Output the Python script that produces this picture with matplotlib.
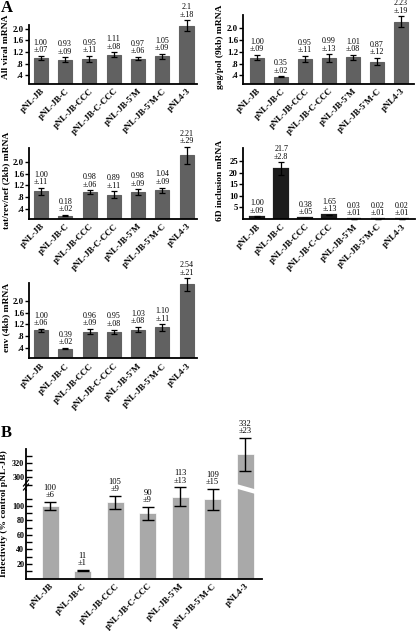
import numpy as np
import matplotlib
matplotlib.use('Agg')
import matplotlib.pyplot as plt
import matplotlib.transforms as mtransforms
from matplotlib.lines import Line2D

plt.rcParams['font.family'] = ['Liberation Serif', 'DejaVu Serif']

# ---------------- data ----------------
constructs = ["pNL-JB", "pNL-JB-C", "pNL-JB-CCC", "pNL-JB-C-CCC",
              "pNL-JB-5'M", "pNL-JB-5'M-C", "pNL4-3"]

all_viral = [1.00, 0.93, 0.95, 1.11, 0.97, 1.05, 2.10]
all_viral_err = [0.07, 0.09, 0.11, 0.08, 0.06, 0.09, 0.18]
all_viral_txt = ["1.00", "0.93", "0.95", "1.11", "0.97", "1.05", "2.1"]
all_viral_etxt = ["±.07", "±.09", "±.11", "±.08", "±.06", "±.09", "±.18"]

gagpol = [1.00, 0.35, 0.95, 0.99, 1.01, 0.87, 2.23]
gagpol_err = [0.09, 0.02, 0.11, 0.13, 0.08, 0.12, 0.19]
gagpol_txt = ["1.00", "0.35", "0.95", "0.99", "1.01", "0.87", "2.23"]
gagpol_etxt = ["±.09", "±.02", "±.11", "±.13", "±.08", "±.12", "±.19"]

tatrev = [1.00, 0.18, 0.98, 0.89, 0.98, 1.04, 2.21]
tatrev_err = [0.11, 0.02, 0.06, 0.11, 0.09, 0.09, 0.29]
tatrev_txt = ["1.00", "0.18", "0.98", "0.89", "0.98", "1.04", "2.21"]
tatrev_etxt = ["±.11", "±.02", "±.06", "±.11", "±.09", "±.09", "±.29"]

sixd = [1.00, 21.7, 0.38, 1.65, 0.03, 0.02, 0.02]
sixd_err = [0.09, 2.8, 0.05, 0.13, 0.01, 0.01, 0.01]
sixd_txt = ["1.00", "21.7", "0.38", "1.65", "0.03", "0.02", "0.02"]
sixd_etxt = ["±.09", "±2.8", "±.05", "±.13", "±.01", "±.01", "±.01"]

env = [1.00, 0.39, 0.96, 0.95, 1.03, 1.10, 2.54]
env_err = [0.06, 0.02, 0.09, 0.08, 0.08, 0.11, 0.21]
env_txt = ["1.00", "0.39", "0.96", "0.95", "1.03", "1.10", "2.54"]
env_etxt = ["±.06", "±.02", "±.09", "±.08", "±.08", "±.11", "±.21"]

infect = [100, 11, 105, 90, 113, 109, 332]
infect_err = [6, 1, 9, 9, 13, 15, 23]
infect_txt = ["100", "11", "105", "90", "113", "109", "332"]
infect_etxt = ["±6", "±1", "±9", "±9", "±13", "±15", "±23"]

ratio_ticks = [0.4, 0.8, 1.2, 1.6, 2.0]
ratio_ticklabels = [".4", ".8", "1.2", "1.6", "2.0"]
sixd_ticks = [5, 10, 15, 20, 25]
infect_low_ticks = [20, 40, 60, 80, 100]
infect_low_minor = [10, 30, 50, 70, 90, 110]
infect_high_ticks = [300, 320]
infect_high_minor = [290, 310, 330]

# ---------------- layout helpers ----------------
W, H = 416, 631
fig = plt.figure(figsize=(W / 100, H / 100), dpi=100)


def box(x0, x1, ytop, ybot):
    return [x0 / W, 1 - ybot / H, (x1 - x0) / W, (ybot - ytop) / H]


def ftext(x, y, s, **kw):
    fig.text(x / W, 1 - y / H, s, **kw)


GRAY = '#616161'
DARK = '#1c1c1c'
LIGHT = '#a9a9a9'
TXT = 5.8
TICK = 6.3
x = np.arange(len(constructs))


def style_axes(ax, direction='out', length=2.6, labelsize=TICK, pad=1.0):
    for s in ['top', 'right']:
        ax.spines[s].set_visible(False)
    for s in ['left', 'bottom']:
        ax.spines[s].set_linewidth(1.3)
    ax.tick_params(axis='y', which='both', direction=direction, length=length,
                   width=1.0, labelsize=labelsize, pad=pad)
    ax.tick_params(axis='x', length=0, pad=2.5)


def set_yticks(ax, ticks, labels, size=TICK):
    ax.set_yticks(ticks)
    ax.set_yticklabels(labels, fontsize=size, fontweight='bold')


def xlabels(ax):
    ax.set_xticks(x)
    ax.set_xticklabels(constructs, rotation=45, ha='right', va='top',
                       rotation_mode='anchor', fontsize=6.4, fontweight='bold')


def panel_a(rect, vals, errs, vtxt, etxt, ylim, xlim, color, ticks, ticklabels,
            ylabel, ylabel_pos, lw=0.8):
    ax = fig.add_axes(box(*rect))
    ax.bar(x, vals, width=0.58, color=color, edgecolor=color, linewidth=lw)
    ax.errorbar(x, vals, yerr=errs, fmt='none', ecolor='black', elinewidth=0.9,
                capsize=2.5, capthick=0.9, clip_on=False)
    for i in range(len(x)):
        ax.annotate(vtxt[i] + "\n" + etxt[i], xy=(x[i], vals[i] + errs[i]),
                    xytext=(0, 1.2), textcoords='offset points', ha='center',
                    va='bottom', fontsize=TXT, linespacing=0.9,
                    annotation_clip=False)
    ax.set_xlim(*xlim)
    ax.set_ylim(*ylim)
    set_yticks(ax, ticks, ticklabels)
    xlabels(ax)
    style_axes(ax)
    ftext(ylabel_pos[0], ylabel_pos[1], ylabel, rotation=90, ha='center',
          va='center', fontsize=6.8, fontweight='bold')
    return ax


XL_LEFT = (-0.5, 6.43)
XL_RIGHT = (-0.58, 6.54)

panel_a((28.5, 197, 25, 83.5), all_viral, all_viral_err, all_viral_txt,
        all_viral_etxt, (0.12, 2.12), XL_LEFT, GRAY, ratio_ticks,
        ratio_ticklabels, "All viral mRNA", (6.5, 47))
panel_a((243, 414, 15, 83.5), gagpol, gagpol_err, gagpol_txt, gagpol_etxt,
        (0.12, 2.46), XL_RIGHT, GRAY, ratio_ticks, ratio_ticklabels,
        "gag/pol (9kb) mRNA", (220, 47))
panel_a((29, 197, 148, 218.7), tatrev, tatrev_err, tatrev_txt, tatrev_etxt,
        (0.08, 2.46), XL_LEFT, GRAY, ratio_ticks, ratio_ticklabels,
        "tat/rev/nef (2kb) mRNA", (6.5, 180))
panel_a((243, 415, 148.3, 219), sixd, sixd_err, sixd_txt, sixd_etxt,
        (0.0, 30.5), XL_RIGHT, DARK, sixd_ticks, [str(t) for t in sixd_ticks],
        "6D inclusion mRNA", (220, 180), lw=1.6)
panel_a((29, 197, 283.3, 358.5), env, env_err, env_txt, env_etxt,
        (0.06, 2.58), XL_LEFT, GRAY, ratio_ticks, ratio_ticklabels,
        "env (4kb) mRNA", (6.5, 317))

# ---------------- panel B (broken axis) ----------------
XL_B = (-0.74, 6.52)
LOW_LIM = (0, 122)
HIGH_LIM = (282.4, 339.5)
BREAK_Y = 490
BTICK = 5.9

axl = fig.add_axes(box(26, 262, BREAK_Y, 578.5))
axh = fig.add_axes(box(26, 262, 449, BREAK_Y))
axh.patch.set_visible(False)
axl.patch.set_visible(False)

vals = np.array(infect, dtype=float)
errs = np.array(infect_err, dtype=float)
in_low = vals <= LOW_LIM[1]

for ax in (axl, axh):
    ax.bar(x, vals, width=0.52, color=LIGHT, edgecolor='white', linewidth=0.5)
    ax.set_xlim(*XL_B)
axl.errorbar(x[in_low], vals[in_low], yerr=errs[in_low], fmt='none',
             ecolor='black', elinewidth=1.0, capsize=4, capthick=1.0,
             clip_on=False)
axh.errorbar(x[~in_low], vals[~in_low], yerr=errs[~in_low], fmt='none',
             ecolor='black', elinewidth=1.0, capsize=4, capthick=1.0,
             clip_on=False)
for i in range(len(x)):
    target = axl if in_low[i] else axh
    target.annotate(infect_txt[i] + "\n" + infect_etxt[i],
                    xy=(x[i], vals[i] + errs[i]), xytext=(0, 1.8),
                    textcoords='offset points', ha='center', va='bottom',
                    fontsize=TXT + 0.3, linespacing=0.9, annotation_clip=False,
                    zorder=10)

axl.set_ylim(*LOW_LIM)
axh.set_ylim(*HIGH_LIM)
set_yticks(axl, infect_low_ticks, [str(t) for t in infect_low_ticks], BTICK)
axl.set_yticks(infect_low_minor, minor=True)
set_yticks(axh, infect_high_ticks, [str(t) for t in infect_high_ticks], BTICK)
axh.set_yticks(infect_high_minor, minor=True)
xlabels(axl)
style_axes(axl, direction='in', length=4.0, labelsize=BTICK, pad=1.2)
style_axes(axh, direction='in', length=4.0, labelsize=BTICK, pad=1.2)
axh.spines['bottom'].set_visible(False)
axh.tick_params(axis='x', bottom=False, labelbottom=False)

# break marks: white slash across the tall bar, "//" on the y-axis
i_big = int(np.argmax(vals))
trans = mtransforms.blended_transform_factory(axl.transData, fig.transFigure)
fig.add_artist(Line2D([x[i_big] - 0.3, x[i_big] + 0.3],
                      [1 - 486 / H, 1 - 491.5 / H], transform=trans,
                      color='white', linewidth=3.2, zorder=5))
for dy in (0, 4):
    fig.add_artist(Line2D([23.5 / W, 28.5 / W],
                          [1 - (486 + dy) / H, 1 - (480 + dy) / H],
                          color='black', linewidth=0.9))

ftext(4.0, 514, "Infectivity (% control pNL-JB)", rotation=90, ha='center',
      va='center', fontsize=6.8, fontweight='bold')

# panel letters
ftext(1, 8, "A", fontsize=12, fontweight='bold', ha='left', va='center')
ftext(1, 433, "B", fontsize=12, fontweight='bold', ha='left', va='center')

fig.savefig('out.png', dpi=100)
